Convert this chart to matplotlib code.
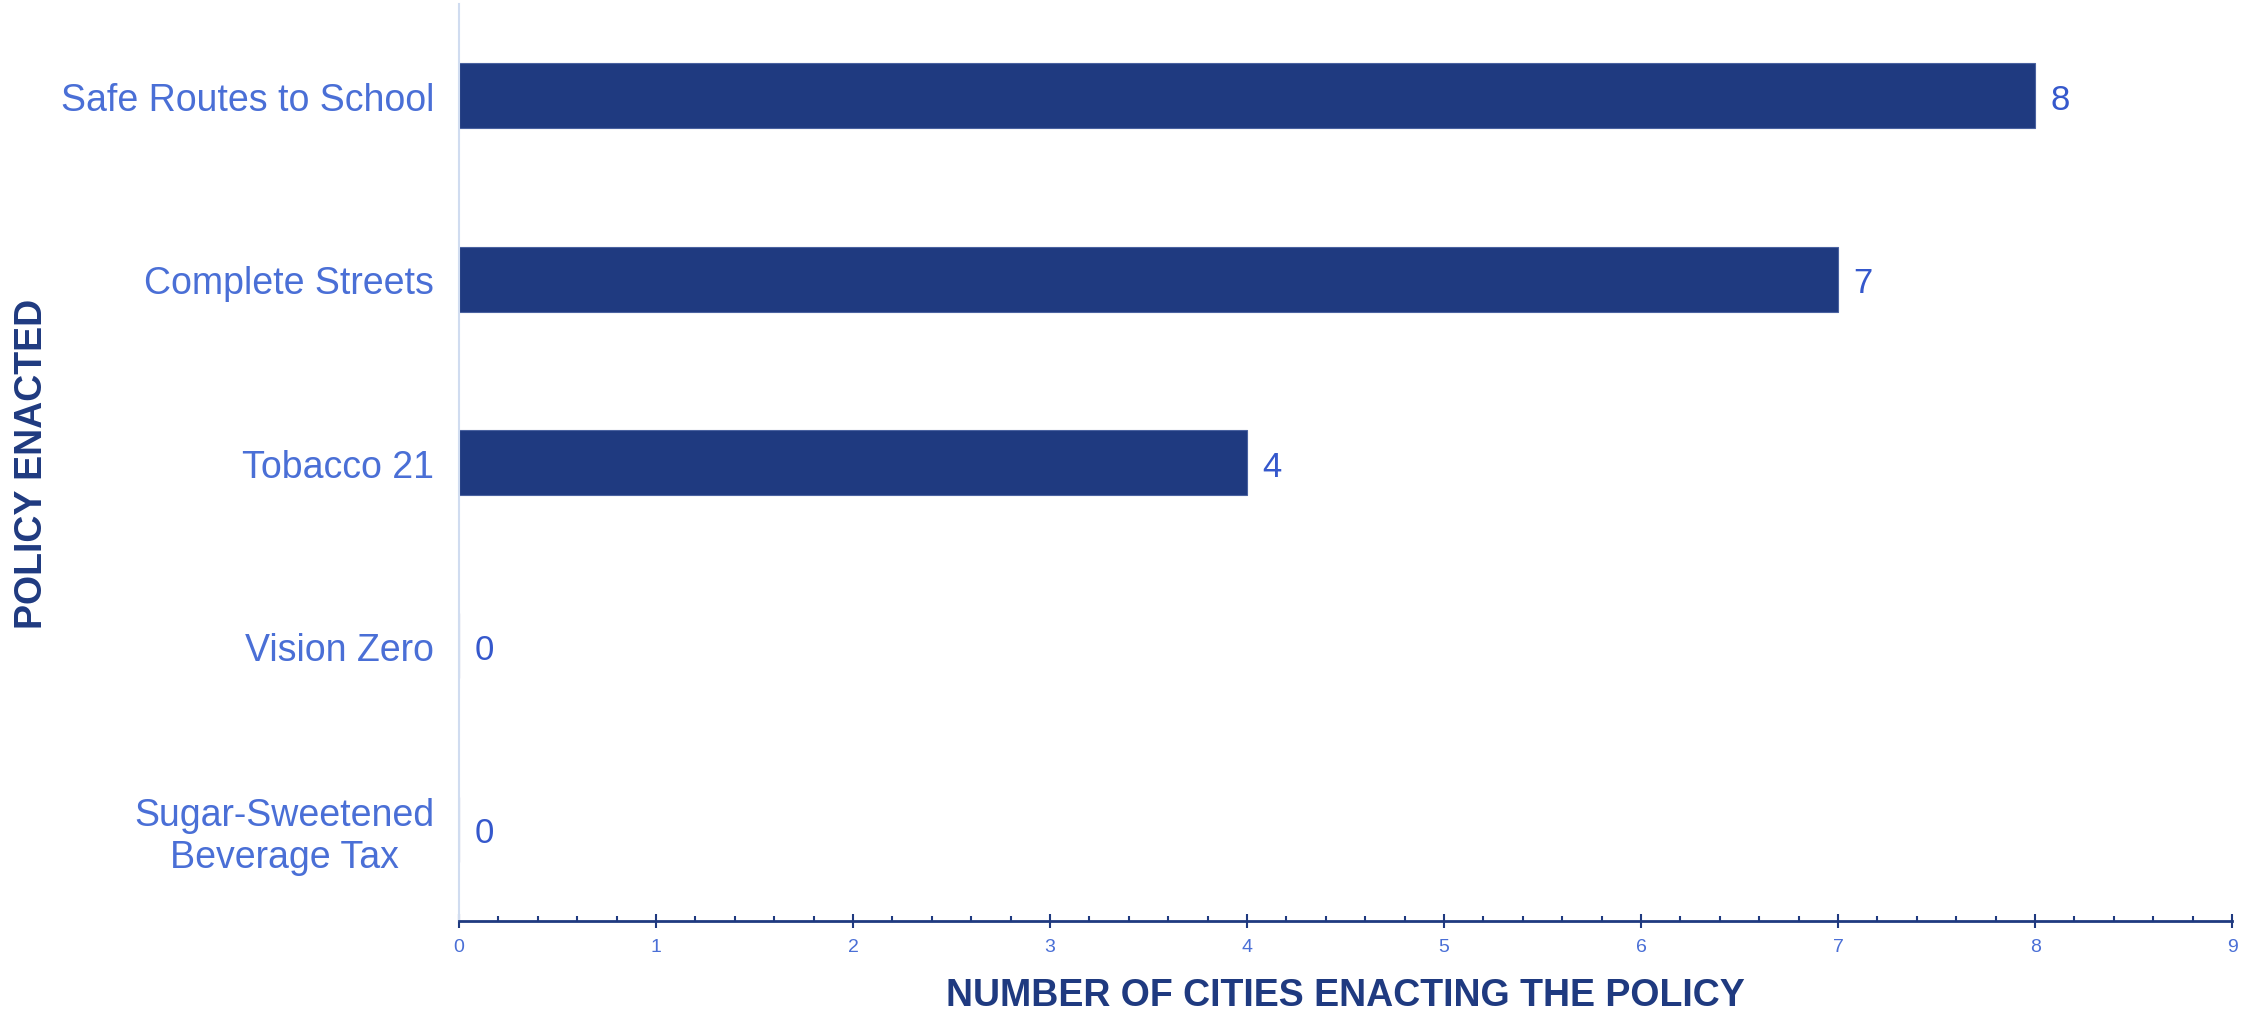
import matplotlib.pyplot as plt
from matplotlib.ticker import MultipleLocator

plt.rcParams['font.family'] = ['Liberation Sans', 'DejaVu Sans']

policies = ['Safe Routes to School', 'Complete Streets', 'Tobacco 21',
            'Vision Zero', 'Sugar-Sweetened\nBeverage Tax']
cities = [8, 7, 4, 0, 0]

navy = '#1f3a80'
label_blue = '#4a6fd6'
value_blue = '#3558cc'

fig = plt.figure(figsize=(22.67, 10.12), dpi=100)
ax = fig.add_axes([0.2025, 0.0889, 0.7821, 0.9061])

pos = list(range(len(policies)))
ax.barh(pos, cities, height=0.355, color=navy, edgecolor='#4a62a0', linewidth=0.8)

for y, v in zip(pos, cities):
    ax.annotate(str(v), (v, y), xytext=(11, 0), textcoords='offset points',
                ha='left', va='center_baseline', fontsize=25, color=value_blue)

ax.set_xlim(0, 9)
ax.set_ylim(-0.5, len(policies) - 0.5)
ax.invert_yaxis()

ax.set_yticks(pos)
ax.set_yticklabels(policies, fontsize=27, color=label_blue, multialignment='center')
ax.tick_params(axis='y', length=0, pad=18)

ax.xaxis.set_major_locator(MultipleLocator(1))
ax.xaxis.set_minor_locator(MultipleLocator(0.2))
ax.tick_params(axis='x', which='major', direction='inout', length=10, width=1.5,
               color=navy, labelsize=14, labelcolor=label_blue, pad=7)
ax.tick_params(axis='x', which='minor', direction='in', length=3.8, width=1.5, color=navy)

for side in ['top', 'right']:
    ax.spines[side].set_visible(False)
ax.spines['bottom'].set_color(navy)
ax.spines['bottom'].set_linewidth(2)
ax.spines['left'].set_color('#d0dcf0')
ax.spines['left'].set_linewidth(1.5)

ax.set_xlabel('NUMBER OF CITIES ENACTING THE POLICY', fontsize=27, fontweight='bold',
              color=navy, labelpad=16)
ax.set_ylabel('POLICY ENACTED', fontsize=27, fontweight='bold', color=navy, va='center')
ax.yaxis.set_label_coords(-0.241, 0.5)

fig.savefig('out.png', dpi=100)
